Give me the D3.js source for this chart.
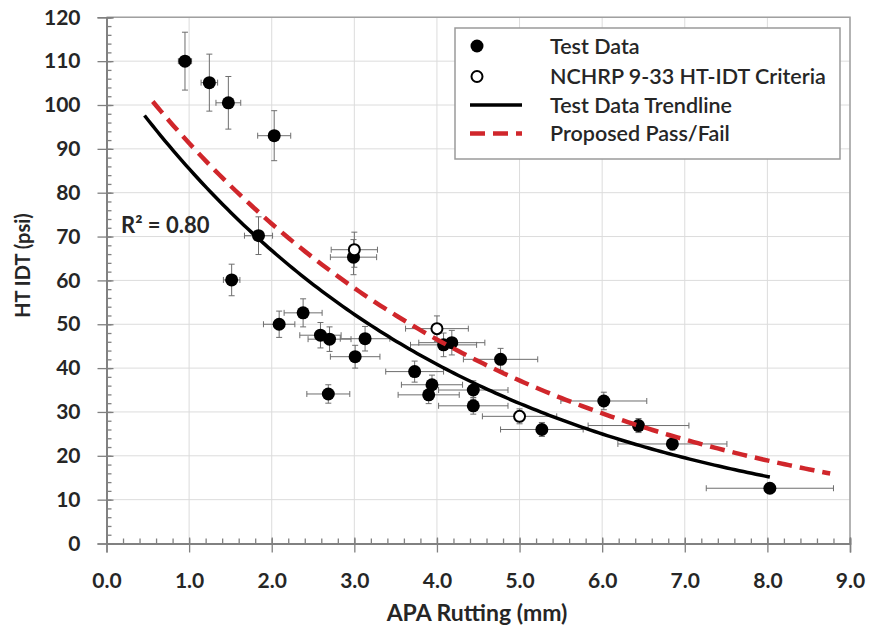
<!DOCTYPE html>
<html>
<head>
<meta charset="utf-8">
<script src="https://cdn.jsdelivr.net/npm/d3@7"></script>
<style>
  html, body { margin: 0; padding: 0; background: #fff; }
  text { font-family: Lato, "Open Sans", sans-serif; }
</style>
</head>
<body>
<svg id="chart" width="871" height="630"></svg>
<script>
// ---- Data ----
const testX    = [0.95, 1.245, 1.475, 2.03, 1.84, 1.515, 2.99, 2.38, 2.09, 2.59, 2.70, 3.13, 3.01, 2.685, 4.08, 4.18, 4.77, 3.73, 3.94, 3.90, 4.44, 4.44, 5.27, 6.02, 6.44, 6.85, 8.03];
const testY    = [110.0, 105.1, 100.5, 93.0, 70.2, 60.1, 65.3, 52.6, 50.0, 47.5, 46.6, 46.7, 42.6, 34.1, 45.3, 45.8, 42.0, 39.2, 36.2, 33.9, 35.0, 31.4, 26.0, 32.5, 26.9, 22.7, 12.6];
const testXErr = [0.08, 0.10, 0.15, 0.20, 0.17, 0.10, 0.28, 0.23, 0.19, 0.25, 0.26, 0.30, 0.30, 0.26, 0.40, 0.40, 0.45, 0.35, 0.37, 0.37, 0.42, 0.42, 0.50, 0.52, 0.61, 0.66, 0.77];
const testYErr = [6.6, 6.5, 6.0, 5.7, 4.3, 3.6, 4.0, 3.2, 3.0, 2.9, 2.8, 2.8, 2.6, 2.1, 2.7, 2.8, 2.5, 2.4, 2.2, 2.0, 2.1, 1.9, 1.6, 2.0, 1.6, 1.4, 0.8];

const nchrpX    = [3.0, 4.0, 5.0];
const nchrpY    = [67.0, 49.0, 29.0];
const nchrpXErr = [0.28, 0.38, 0.45];
const nchrpYErr = [4.0, 2.9, 1.7];

// exponential trendlines  y = a * exp(b * x)
const trendCoef      = [109.3, -0.246];
const trendRange     = [0.46, 8.03];
const passFailCoef   = [114.3, -0.2247];
const passFailRange  = [0.56, 8.76];
const rSquaredLabel  = "R² = 0.80";

const xTicks = [0, 1, 2, 3, 4, 5, 6, 7, 8, 9];
const yTicks = [0, 10, 20, 30, 40, 50, 60, 70, 80, 90, 100, 110, 120];
const xTitle = "APA Rutting (mm)";
const yTitle = "HT IDT (psi)";
const legendLabels = ["Test Data", "NCHRP 9-33 HT-IDT Criteria", "Test Data Trendline", "Proposed Pass/Fail"];

// ---- Layout ----
const svg = d3.select("#chart");
const L = 106.5, R = 850, T = 17.3, B = 543.5;
const x = d3.scaleLinear().domain([0, 9]).range([L, R]);
const y = d3.scaleLinear().domain([0, 120]).range([B, T]);

svg.append("rect").attr("width", 871).attr("height", 630).attr("fill", "#fff");

// gridlines
const grid = svg.append("g");
grid.selectAll("line.h").data(yTicks.slice(1)).join("line")
  .attr("x1", L).attr("x2", R).attr("y1", d => y(d)).attr("y2", d => y(d))
  .attr("stroke", "#dcdcdc").attr("stroke-width", 1);
grid.selectAll("line.v").data(xTicks.slice(1)).join("line")
  .attr("x1", d => x(d)).attr("x2", d => x(d)).attr("y1", T).attr("y2", B)
  .attr("stroke", "#dcdcdc").attr("stroke-width", 1);

// frame (top/right)
svg.append("path").attr("d", `M${L},${T}H${R}V${B}`)
  .attr("fill", "none").attr("stroke", "#a0a0a0").attr("stroke-width", 1.5);

// axes
const minorX = d3.range(0, 9.001, 0.2);
const minorY = d3.range(0, 120.001, 2);
const axisColor = "#808080";

function styleAxis(g) {
  g.selectAll(".domain").attr("stroke", axisColor).attr("stroke-width", 1.5);
  g.selectAll(".tick line").attr("stroke", axisColor).attr("stroke-width", 1.3);
}

// minor ticks (inside)
svg.append("g").attr("transform", `translate(0,${B})`)
  .call(d3.axisBottom(x).tickValues(minorX).tickSize(-5).tickFormat(""))
  .call(styleAxis);
svg.append("g").attr("transform", `translate(${L},0)`)
  .call(d3.axisLeft(y).tickValues(minorY).tickSize(-5).tickFormat(""))
  .call(styleAxis);
// major ticks inside part
svg.append("g").attr("transform", `translate(0,${B})`)
  .call(d3.axisBottom(x).tickValues(xTicks).tickSize(-6).tickFormat(""))
  .call(styleAxis);
svg.append("g").attr("transform", `translate(${L},0)`)
  .call(d3.axisLeft(y).tickValues(yTicks).tickSize(-7).tickFormat(""))
  .call(styleAxis);
// major ticks outside + labels
const xAxis = svg.append("g").attr("transform", `translate(0,${B})`)
  .call(d3.axisBottom(x).tickValues(xTicks).tickSize(9).tickPadding(21).tickFormat(d3.format(".1f")))
  .call(styleAxis);
xAxis.selectAll("text").attr("font-size", 21).attr("font-weight", "bold").attr("fill", "#262626")
  .attr("font-family", "Lato, sans-serif");
const yAxis = svg.append("g").attr("transform", `translate(${L},0)`)
  .call(d3.axisLeft(y).tickValues(yTicks).tickSize(9).tickPadding(17))
  .call(styleAxis);
yAxis.selectAll("text").attr("font-size", 21).attr("font-weight", "bold").attr("fill", "#262626")
  .attr("font-family", "Lato, sans-serif");

// axis titles
svg.append("text").attr("x", 477).attr("y", 621).attr("text-anchor", "middle")
  .attr("font-size", 23).attr("font-weight", "bold").attr("fill", "#262626").text(xTitle);
svg.append("text").attr("transform", "translate(30,265.5) rotate(-90)").attr("text-anchor", "middle")
  .attr("font-size", 20).attr("font-weight", "bold").attr("fill", "#262626").text(yTitle);

// error bars
const testData = testX.map((v, i) => ({x: v, y: testY[i], ex: testXErr[i], ey: testYErr[i]}));
const nchrpData = nchrpX.map((v, i) => ({x: v, y: nchrpY[i], ex: nchrpXErr[i], ey: nchrpYErr[i]}));
const allData = testData.concat(nchrpData);
const cap = 3;
const eb = svg.append("g").attr("stroke", "#6e6e6e").attr("stroke-width", 1).attr("fill", "none");
eb.selectAll("path").data(allData).join("path")
  .attr("d", d => {
    const x0 = x(d.x - d.ex), x1 = x(d.x + d.ex), yc = y(d.y);
    const y0 = y(d.y + d.ey), y1 = y(d.y - d.ey), xc = x(d.x);
    return `M${x0},${yc}H${x1}M${x0},${yc - cap}V${yc + cap}M${x1},${yc - cap}V${yc + cap}` +
           `M${xc},${y0}V${y1}M${xc - cap},${y0}H${xc + cap}M${xc - cap},${y1}H${xc + cap}`;
  });

// points
svg.append("g").selectAll("circle").data(testData).join("circle")
  .attr("cx", d => x(d.x)).attr("cy", d => y(d.y)).attr("r", 6.5).attr("fill", "#000");
svg.append("g").selectAll("circle").data(nchrpData).join("circle")
  .attr("cx", d => x(d.x)).attr("cy", d => y(d.y)).attr("r", 5.5)
  .attr("fill", "#fff").attr("stroke", "#000").attr("stroke-width", 2);

// trendlines
function curve(coef, range) {
  const pts = d3.range(range[0], range[1], 0.05).concat([range[1]]);
  return pts.map(v => [x(v), y(coef[0] * Math.exp(coef[1] * v))]);
}
const line = d3.line();
svg.append("path").attr("d", line(curve(trendCoef, trendRange)))
  .attr("fill", "none").attr("stroke", "#000").attr("stroke-width", 3.5);
svg.append("path").attr("d", line(curve(passFailCoef, passFailRange)))
  .attr("fill", "none").attr("stroke", "#d0262b").attr("stroke-width", 4.5)
  .attr("stroke-dasharray", "15,8");

// R² label
svg.append("text").attr("x", 121).attr("y", 233)
  .attr("font-size", 22).attr("font-weight", "bold").attr("fill", "#262626").text(rSquaredLabel);

// legend
const lg = svg.append("g");
lg.append("rect").attr("x", 455).attr("y", 28).attr("width", 385).attr("height", 131)
  .attr("fill", "#fff").attr("stroke", "#9a9a9a").attr("stroke-width", 1.5);
const rowY = [46, 76.5, 105, 133.5];
lg.append("circle").attr("cx", 477).attr("cy", rowY[0]).attr("r", 6.5).attr("fill", "#000");
lg.append("circle").attr("cx", 477).attr("cy", rowY[1]).attr("r", 5.5)
  .attr("fill", "#fff").attr("stroke", "#000").attr("stroke-width", 2);
lg.append("line").attr("x1", 470).attr("x2", 522).attr("y1", rowY[2]).attr("y2", rowY[2])
  .attr("stroke", "#000").attr("stroke-width", 3.5);
lg.append("line").attr("x1", 470).attr("x2", 522).attr("y1", rowY[3]).attr("y2", rowY[3])
  .attr("stroke", "#d0262b").attr("stroke-width", 4.5).attr("stroke-dasharray", "15,8");
lg.selectAll("text").data(legendLabels).join("text")
  .attr("x", 550).attr("y", (d, i) => rowY[i] + 7.5)
  .attr("font-size", 21.5).attr("font-weight", 600).attr("fill", "#262626").text(d => d);
</script>
</body>
</html>
